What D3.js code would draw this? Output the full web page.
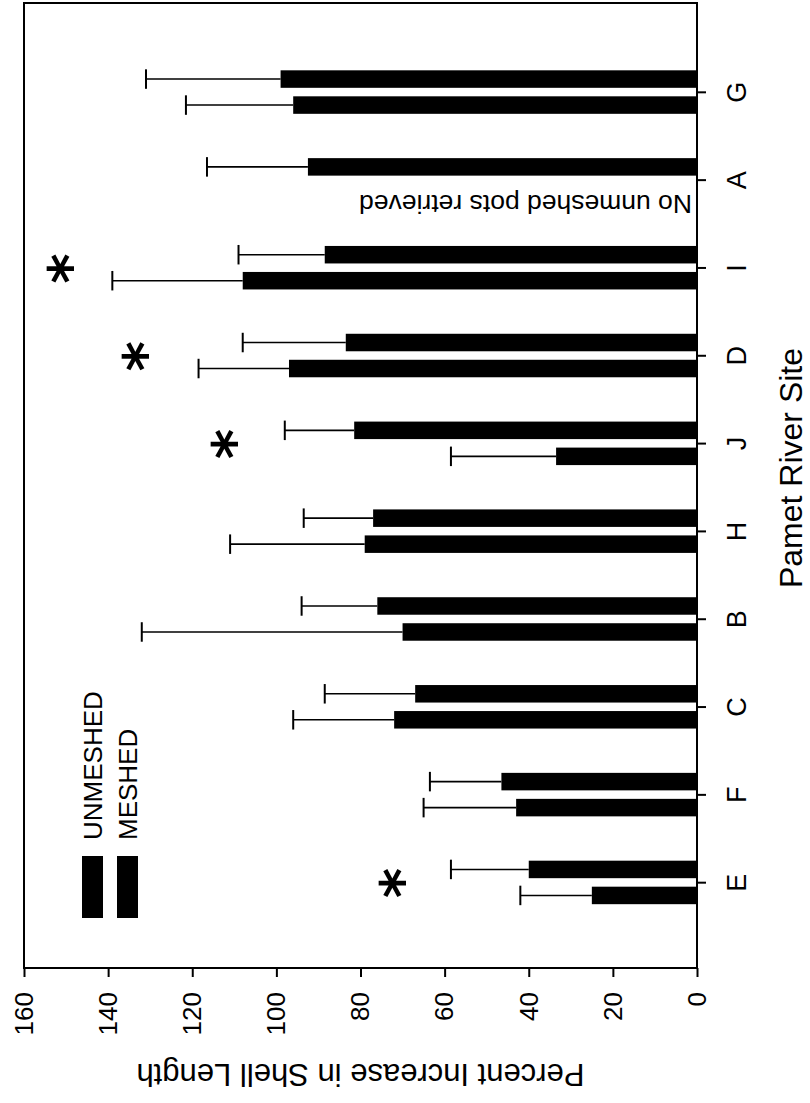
<!DOCTYPE html>
<html>
<head>
<meta charset="utf-8">
<script src="https://cdn.jsdelivr.net/npm/d3@7"></script>
<style>
  body { margin: 0; background: #fff; }
  svg { display: block; font-family: "Liberation Sans", Arial, sans-serif; }
</style>
</head>
<body>
<svg id="chart" width="810" height="1103"></svg>
<script>
// sites in plotting order (left to right before the page is turned)
const sites = ["E", "F", "C", "B", "H", "J", "D", "I", "A", "G"];

// mean percent increase, and the error bar length above each bar
const unmeshed = [25, 43, 72, 70, 79, 33.5, 97, 108, null, 96];
const unmeshedErr = [17, 22, 24, 62, 32, 25, 21.5, 31, null, 25.5];
const meshed = [40, 46.5, 67, 76, 77, 81.5, 83.5, 88.5, 92.5, 99];
const meshedErr = [18.5, 17, 21.5, 18, 16.5, 16.5, 24.5, 20.5, 24, 32];

// significance stars
const starSites = ["E", "J", "D", "I"];
const starValues = [73, 113, 134, 152];

const yTicks = [0, 20, 40, 60, 80, 100, 120, 140, 160];
const seriesNames = ["UNMESHED", "MESHED"];
const noDataSite = "A";
const noDataText = "No unmeshed pots retrieved";

const svg = d3.select("#chart");

// the whole figure is drawn upright, then turned a quarter turn counter-clockwise
const g = svg.append("g").attr("transform", "translate(0,1103) rotate(-90)");

const x = d3.scalePoint().domain(sites).range([132, 1098]).padding(1);
const y = d3.scaleLinear().domain([0, 160]).range([697, 24]);

const barW = 17.5;
const series = [
  { name: "unmeshed", vals: unmeshed, errs: unmeshedErr, off: -21 },
  { name: "meshed", vals: meshed, errs: meshedErr, off: 5 }
];

series.forEach(function (s) {
  const rows = sites
    .map(function (site, i) {
      return { site: site, v: s.vals[i], e: s.errs[i] };
    })
    .filter(function (d) {
      return d.v != null;
    });

  g.append("g")
    .selectAll("rect")
    .data(rows)
    .join("rect")
    .attr("x", function (d) { return x(d.site) + s.off; })
    .attr("y", function (d) { return y(d.v); })
    .attr("width", barW)
    .attr("height", function (d) { return y(0) - y(d.v); })
    .attr("fill", "#000");

  // error bars go only outward
  const eb = g.append("g").attr("stroke", "#000");
  eb.selectAll("line.stem")
    .data(rows)
    .join("line")
    .attr("class", "stem")
    .attr("x1", function (d) { return x(d.site) + s.off + barW / 2; })
    .attr("x2", function (d) { return x(d.site) + s.off + barW / 2; })
    .attr("y1", function (d) { return y(d.v); })
    .attr("y2", function (d) { return y(d.v + d.e); })
    .attr("stroke-width", 1.6);
  eb.selectAll("line.cap")
    .data(rows)
    .join("line")
    .attr("class", "cap")
    .attr("x1", function (d) { return x(d.site) + s.off - 1; })
    .attr("x2", function (d) { return x(d.site) + s.off + barW + 1; })
    .attr("y1", function (d) { return y(d.v + d.e); })
    .attr("y2", function (d) { return y(d.v + d.e); })
    .attr("stroke-width", 2);
});

// frame
g.append("rect")
  .attr("x", 135)
  .attr("y", y(160))
  .attr("width", 1100 - 135)
  .attr("height", y(0) - y(160))
  .attr("fill", "none")
  .attr("stroke", "#000")
  .attr("stroke-width", 2);

// value axis
const yAxis = g.append("g")
  .attr("transform", "translate(135,0)")
  .call(d3.axisLeft(y).tickValues(yTicks).tickSize(9).tickSizeOuter(0).tickPadding(15));
yAxis.select(".domain").remove();
yAxis.selectAll("line").attr("stroke", "#000").attr("stroke-width", 2);
yAxis.selectAll("text")
  .attr("font-size", 26)
  .attr("font-family", "Liberation Sans, Arial, sans-serif")
  .attr("fill", "#000");

// site axis
const xAxis = g.append("g")
  .attr("transform", "translate(0," + y(0) + ")")
  .call(d3.axisBottom(x).tickSize(9).tickSizeOuter(0).tickPadding(21));
xAxis.select(".domain").remove();
xAxis.selectAll("line").attr("stroke", "#000").attr("stroke-width", 2);
xAxis.selectAll("text")
  .attr("font-size", 27)
  .attr("font-family", "Liberation Sans, Arial, sans-serif")
  .attr("fill", "#000");

// axis titles
g.append("text")
  .attr("transform", "translate(39," + (y(0) + y(160)) / 2 + ") rotate(-90)")
  .attr("text-anchor", "middle")
  .attr("font-size", 31)
  .text("Percent Increase in Shell Length");

g.append("text")
  .attr("x", (x("J") + x("H")) / 2 + 20)
  .attr("y", 802)
  .attr("text-anchor", "middle")
  .attr("font-size", 32)
  .text("Pamet River Site");

// note where no unmeshed data exist
g.append("text")
  .attr("transform", "translate(" + (x(noDataSite) - 14) + "," + (y(0) - 5) + ") rotate(-90)")
  .attr("text-anchor", "start")
  .attr("font-size", 26.5)
  .text(noDataText);

// stars
g.append("g")
  .selectAll("text")
  .data(starSites)
  .join("text")
  .attr("x", function (d) { return x(d); })
  .attr("y", function (d, i) { return y(starValues[i]); })
  .attr("dy", "0.55em")
  .attr("text-anchor", "middle")
  .attr("font-size", 58)
  .attr("font-weight", "bold")
  .attr("font-family", "DejaVu Sans, sans-serif")
  .text("*");

// legend
const leg = g.append("g");
seriesNames.forEach(function (name, i) {
  leg.append("rect")
    .attr("x", 185)
    .attr("y", 82 + i * 35)
    .attr("width", 62)
    .attr("height", 21)
    .attr("fill", "#000");
  leg.append("text")
    .attr("x", 263)
    .attr("y", 102 + i * 35)
    .attr("font-size", 26)
    .text(name);
});
</script>
</body>
</html>
